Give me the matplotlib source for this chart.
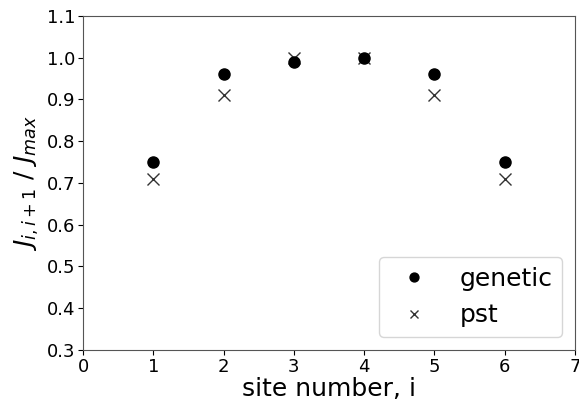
import matplotlib.pyplot as plt

sites = [1, 2, 3, 4, 5, 6]
genetic = [0.75, 0.96, 0.99, 1.00, 0.96, 0.75]
pst = [0.71, 0.91, 1.00, 1.00, 0.91, 0.71]


def main():
    fig = plt.figure(figsize=(5.79, 4.01), dpi=100)
    ax = fig.add_axes([0.1434, 0.1272, 0.8496, 0.8329])
    ax.plot(sites, pst, "x", color="#333333", markersize=8, label="pst", zorder=2)
    ax.plot(sites, genetic, "o", color="black", markersize=8, label="genetic", zorder=3)
    ax.set_xlim(0, 7)
    ax.set_ylim(0.3, 1.1)
    ax.set_xticks(range(8))
    ax.set_yticks([0.3, 0.4, 0.5, 0.6, 0.7, 0.8, 0.9, 1.0, 1.1])
    ax.tick_params(labelsize=13, pad=2)
    for s in ax.spines.values():
        s.set_color("#555555")
    ax.set_xlabel("site number, i", fontsize=18, labelpad=1)
    ax.set_ylabel(r"$J_{i,i+1}\ /\ J_{max}$", fontsize=18)
    handles, labels = ax.get_legend_handles_labels()
    ax.legend(handles[::-1], labels[::-1], loc="lower right", fontsize=18,
              markerscale=0.8)
    fig.savefig("out.png", dpi=100)


if __name__ == "__main__":
    main()
